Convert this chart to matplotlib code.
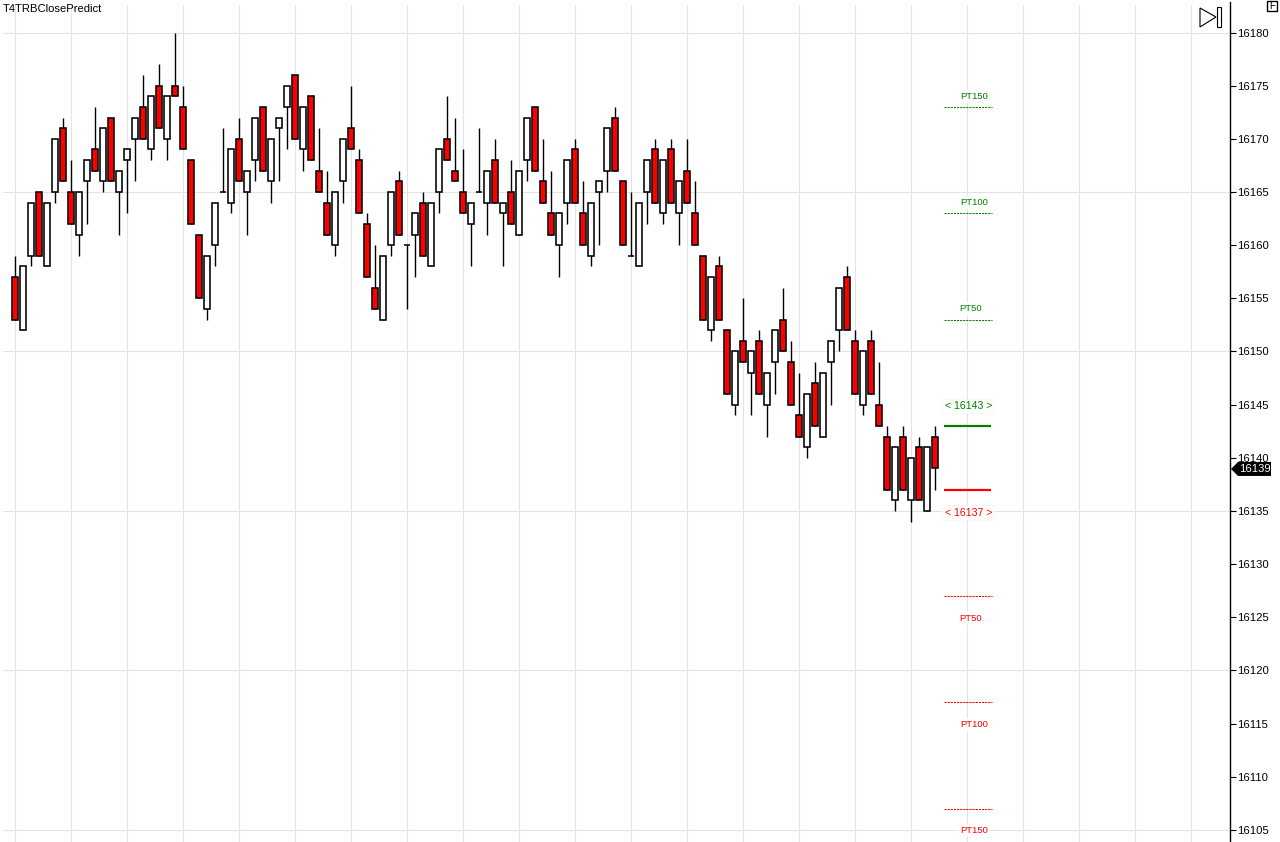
import matplotlib
matplotlib.use("Agg")
import matplotlib.pyplot as plt
from matplotlib.patches import Polygon, Rectangle

plt.rcParams['font.family'] = ['Liberation Sans', 'DejaVu Sans']

W, H = 1280, 842

# body top / bottom and wicks, one entry per bar
opens = [16157, 16152, 16159, 16165, 16158, 16165, 16171, 16165, 16161, 16166,
         16169, 16166, 16172, 16165, 16168, 16170, 16173, 16169, 16175, 16170,
         16175, 16173, 16168, 16161, 16154, 16160, 16165, 16164, 16170, 16165,
         16168, 16173, 16166, 16171, 16173, 16176, 16169, 16174, 16167, 16164,
         16160, 16166, 16171, 16168, 16162, 16156, 16153, 16160, 16166, 16160,
         16161, 16164, 16158, 16165, 16170, 16167, 16165, 16162, 16165, 16164,
         16168, 16163, 16165, 16161, 16168, 16173, 16166, 16163, 16160, 16164,
         16169, 16163, 16159, 16165, 16167, 16172, 16166, 16159, 16158, 16165,
         16169, 16163, 16169, 16163, 16167, 16163, 16159, 16152, 16158, 16152,
         16145, 16151, 16148, 16151, 16145, 16149, 16153, 16149, 16144, 16141,
         16147, 16142, 16149, 16152, 16157, 16151, 16145, 16151, 16145, 16142,
         16136, 16142, 16136, 16141, 16135, 16142]
closes = [16153, 16158, 16164, 16159, 16164, 16170, 16166, 16162, 16165, 16168,
          16167, 16171, 16166, 16167, 16169, 16172, 16170, 16174, 16171, 16174,
          16174, 16169, 16162, 16155, 16159, 16164, 16165, 16169, 16166, 16167,
          16172, 16167, 16170, 16172, 16175, 16170, 16173, 16168, 16165, 16161,
          16165, 16170, 16169, 16163, 16157, 16154, 16159, 16165, 16161, 16160,
          16163, 16159, 16164, 16169, 16168, 16166, 16163, 16164, 16165, 16167,
          16164, 16164, 16162, 16167, 16172, 16167, 16164, 16161, 16163, 16168,
          16164, 16160, 16164, 16166, 16171, 16167, 16160, 16159, 16164, 16168,
          16164, 16168, 16164, 16166, 16164, 16160, 16153, 16157, 16153, 16146,
          16150, 16149, 16150, 16146, 16148, 16152, 16150, 16145, 16142, 16146,
          16143, 16148, 16151, 16156, 16152, 16146, 16150, 16146, 16143, 16137,
          16141, 16137, 16140, 16136, 16141, 16139]
highs = [16159, 16158, 16164, 16165, 16164, 16170, 16172, 16168, 16165, 16168,
         16173, 16171, 16172, 16167, 16169, 16172, 16176, 16174, 16177, 16174,
         16180, 16175, 16168, 16161, 16159, 16164, 16171, 16169, 16172, 16167,
         16172, 16173, 16170, 16172, 16175, 16176, 16173, 16174, 16171, 16167,
         16165, 16170, 16175, 16169, 16163, 16160, 16159, 16165, 16167, 16160,
         16163, 16165, 16164, 16169, 16174, 16172, 16169, 16164, 16171, 16167,
         16170, 16164, 16168, 16167, 16172, 16173, 16170, 16167, 16163, 16168,
         16170, 16166, 16164, 16166, 16171, 16173, 16166, 16165, 16164, 16168,
         16170, 16168, 16170, 16166, 16170, 16166, 16159, 16157, 16159, 16152,
         16150, 16155, 16150, 16152, 16148, 16152, 16156, 16151, 16148, 16146,
         16149, 16148, 16151, 16156, 16158, 16152, 16150, 16152, 16149, 16143,
         16141, 16143, 16140, 16142, 16141, 16143]
lows = [16153, 16152, 16158, 16159, 16158, 16164, 16166, 16162, 16159, 16162,
        16167, 16165, 16166, 16161, 16163, 16166, 16170, 16168, 16171, 16168,
        16174, 16169, 16162, 16155, 16153, 16158, 16165, 16163, 16166, 16161,
        16166, 16167, 16164, 16166, 16169, 16170, 16167, 16168, 16165, 16161,
        16159, 16164, 16169, 16163, 16157, 16154, 16153, 16159, 16161, 16154,
        16157, 16159, 16158, 16163, 16168, 16166, 16163, 16158, 16165, 16161,
        16164, 16158, 16162, 16161, 16166, 16167, 16164, 16161, 16157, 16162,
        16164, 16160, 16158, 16160, 16165, 16167, 16160, 16159, 16158, 16162,
        16164, 16162, 16164, 16160, 16164, 16160, 16153, 16151, 16153, 16146,
        16144, 16149, 16144, 16146, 16142, 16146, 16150, 16145, 16142, 16140,
        16143, 16142, 16145, 16150, 16152, 16146, 16144, 16146, 16143, 16137,
        16135, 16137, 16134, 16136, 16135, 16137]

green_levels = [16173, 16163, 16153]
red_levels = [16127, 16117, 16107]
level_names = ['PT150', 'PT100', 'PT50']
red_names = ['PT50', 'PT100', 'PT150']
entry_long = 16143
entry_short = 16137
last_price = 16139
y_ticks = list(range(16105, 16181, 5))
grid_levels = [16105, 16120, 16135, 16150, 16165, 16180]


def px(x, y):
    # screen pixels (origin top left) to figure fraction
    return x / W, 1 - y / H


def price_px(p):
    return 32.5 + (16180 - p) * 10.633


fig = plt.figure(figsize=(12.8, 8.42), dpi=100)
ax = fig.add_axes([3 / W, 0, 1227 / W, 1 - 5 / H])
ax.set_xlim(-1.5, 151.875)
y_bottom = 16180 - (842 - 32.5) / 10.633
y_top = 16180 + (32.5 - 5) / 10.633
ax.set_ylim(y_bottom, y_top)

for s in ['top', 'left', 'bottom']:
    ax.spines[s].set_visible(False)
ax.spines['right'].set_linewidth(1.0)
ax.spines['right'].set_bounds(y_bottom, y_top + 3 / 10.633)

ax.set_xticks(range(0, 150, 7))
ax.set_yticks(y_ticks)
ax.tick_params(axis='x', length=0, labelbottom=False)
ax.tick_params(axis='y', left=False, labelleft=False, right=True, labelright=True,
               length=4, width=0.8, pad=1, labelsize=8.1, colors='black')
ax.ticklabel_format(useOffset=False, style='plain', axis='y')
ax.grid(True, axis='x', color='#e3e3e3', linewidth=0.8)
for g in grid_levels:
    ax.axhline(g, color='#e3e3e3', linewidth=0.8, zorder=1)
ax.set_axisbelow(True)

# candles
for i in range(len(opens)):
    ax.plot([i, i], [lows[i], highs[i]], color='black', linewidth=1.0, zorder=2,
            solid_capstyle='butt')
    top = max(opens[i], closes[i])
    bottom = min(opens[i], closes[i])
    face = '#ff0000' if closes[i] < opens[i] else 'white'
    ax.bar(i, top - bottom, bottom=bottom, width=0.75, facecolor=face,
           edgecolor='black', linewidth=1.15, zorder=3)

label_box = dict(facecolor='white', edgecolor='none', alpha=0.85, pad=1.5)

# profit targets
for lev, name in zip(green_levels, level_names):
    ax.plot([116.1, 122.1], [lev, lev], color='#008000', linestyle=(0, (2, 1)), linewidth=0.75)
    ax.text(119.9 if name != 'PT50' else 119.5, lev + 1, name, color='#008000', fontsize=6.8,
            ha='center', va='center', bbox=label_box)
for lev, name in zip(red_levels, red_names):
    ax.plot([116.1, 122.1], [lev, lev], color='#ff0000', linestyle=(0, (2, 1)), linewidth=0.75)
    ax.text(119.9 if name != 'PT50' else 119.5, lev - 2.07, name, color='#ff0000', fontsize=6.8,
            ha='center', va='center', bbox=label_box)

ax.plot([116.1, 122.0], [entry_long, entry_long], color='#008000', linewidth=1.6, solid_capstyle='butt')
ax.plot([116.1, 122.0], [entry_short, entry_short], color='#ff0000', linewidth=1.6, solid_capstyle='butt')
tag_box = dict(facecolor='white', edgecolor='#f4f4f4', linewidth=0.6, alpha=0.85, pad=1.5)
ax.text(119.15, entry_long + 1.9, '< %d >' % entry_long, color='#008000', fontsize=7.6,
        ha='center', va='center', bbox=tag_box)
ax.text(119.15, entry_short - 2.15, '< %d >' % entry_short, color='#ff0000', fontsize=7.6,
        ha='center', va='center', bbox=tag_box)

# title
fig.text(*px(3, 8.5), 'T4TRBClosePredict', fontsize=8.15, color='black', ha='left', va='center')

# last price tag
py = price_px(last_price) + 0.5
tag = [px(1231, py), px(1238, py - 7), px(1271, py - 7), px(1271, py + 7), px(1238, py + 7)]
fig.add_artist(Polygon(tag, closed=True, facecolor='black', edgecolor='none', transform=fig.transFigure))
fig.text(*px(1239, py), str(last_price), color='white', fontsize=8.1, ha='left', va='center')

# skip-to-end button
tri = [px(1200, 8), px(1216, 17), px(1200, 27)]
fig.add_artist(Polygon(tri, closed=True, facecolor='white', edgecolor='black', linewidth=0.8,
                       transform=fig.transFigure))
x0, y0 = px(1217, 27)
x1, y1 = px(1221, 7)
fig.add_artist(Rectangle((x0, y0), x1 - x0, y1 - y0, facecolor='white', edgecolor='black',
                         linewidth=0.8, transform=fig.transFigure))

# F box
x0, y0 = px(1267, 11)
x1, y1 = px(1277, 1)
fig.add_artist(Rectangle((x0, y0), x1 - x0, y1 - y0, facecolor='white', edgecolor='black',
                         linewidth=1.0, transform=fig.transFigure))
fig.text(*px(1272, 6.2), 'F', fontsize=7, color='black', ha='center', va='center')

fig.savefig('out.png', dpi=100)
